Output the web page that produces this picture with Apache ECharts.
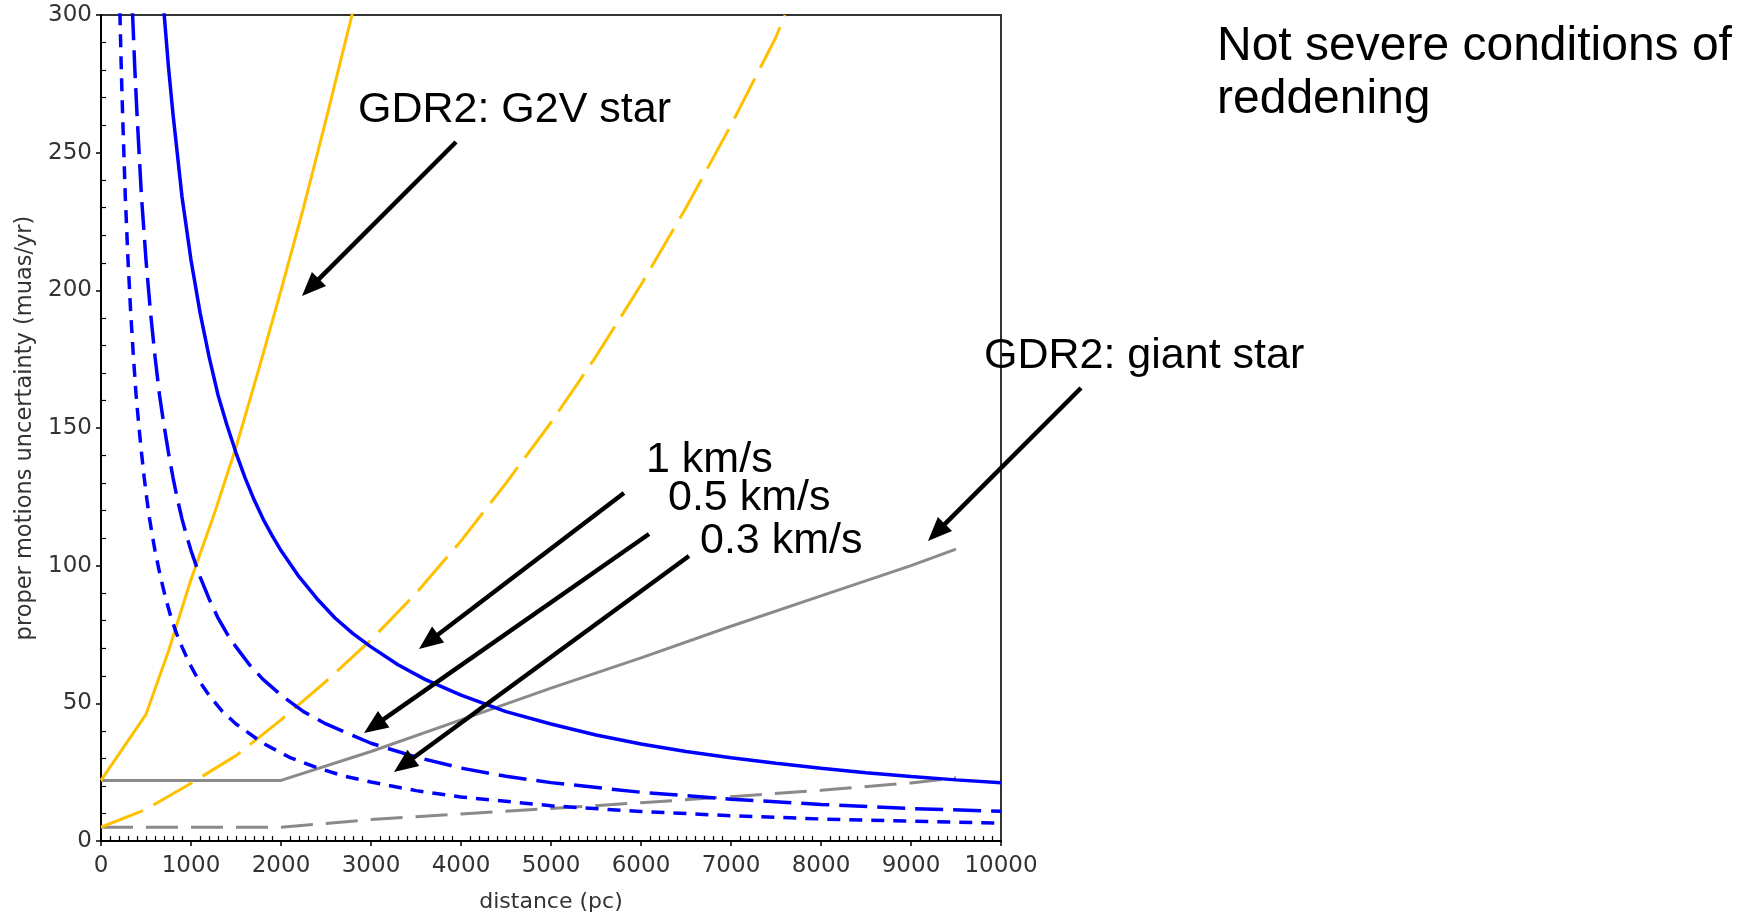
<!DOCTYPE html>
<html><head><meta charset="utf-8">
<script src="https://cdn.jsdelivr.net/npm/echarts@6/dist/echarts.min.js"></script>
<style>html,body{margin:0;padding:0;background:#fff}#c{width:1754px;height:915px}</style>
</head><body><div id="c"></div>
<script>
// ---- data (distance in pc, proper-motion uncertainty in muas/yr) ----
const xTicks = [0,1000,2000,3000,4000,5000,6000,7000,8000,9000,10000];
const yTicks = [0,50,100,150,200,250,300];

const v1Dist = [700,750,800,900,1000,1100,1200,1300,1400,1500,1600,1700,1800,1900,2000,2200,2400,2600,2800,3000,3300,3600,4000,4500,5000,5500,6000,6500,7000,7500,8000,8500,9000,9500,10000];
const v1Vals = [301,281,264,234,211,192,176,162,151,141,132,124,117,111,105.5,96,88,81,75.3,70.5,64,58.7,53,47,42.5,38.5,35.2,32.5,30.2,28.2,26.4,24.8,23.4,22.2,21.2];

const v05Dist = [350,375,400,450,500,550,600,650,700,750,800,850,900,950,1000,1100,1200,1300,1400,1500,1650,1800,2000,2250,2500,3000,3500,4000,4500,5000,6000,7000,8000,9000,10000];
const v05Vals = [301,281,264,234,211,192,176,162,151,141,132,124,117,111,105.5,96,88,81,75.3,70.5,64,58.7,53,47,42.5,35.5,30.5,26.5,23.5,21.2,17.7,15.2,13.3,11.8,10.8];

const v03Dist = [210,225,240,270,300,330,360,390,420,450,480,510,540,570,600,660,720,780,840,900,990,1080,1200,1350,1500,1800,2100,2400,2700,3000,3500,4000,5000,6000,7000,8000,9000,10000];
const v03Vals = [301,281,264,234,211,192,176,162,151,141,132,124,117,111,105.5,96,88,81,75.3,70.5,64,58.7,53,47,42.5,35.5,30.3,26.6,23.6,21.4,18.3,16,12.8,10.7,9.2,8,7.2,6.5];

const g2vDist = [0,250,500,750,1000,1250,1500,1750,2000,2250,2500,2750,2820];
const g2vVals = [22,34,46,69,95,118,143,171,200,230,262,295,304];

const g2vRedDist = [0,500,1000,1500,2000,2500,3000,3500,4000,4500,5000,5500,6000,6500,7000,7500,7600];
const g2vRedVals = [5,11.5,21,31,44,58,73,90,109,130,152,176,202,230,260,292,300];

const giantDist = [0,2000,3000,4000,5000,6000,7000,8000,9000,9500];
const giantVals = [22,22,32.5,44,55.5,66.5,78,89,100,106];

const giantRedDist = [0,2000,3000,4000,5000,6000,7000,8000,9000,9500];
const giantRedVals = [5,5,7.8,9.8,11.8,13.9,16.1,18.4,21.1,23];

function zip(a, b) { return a.map((x, i) => [x, b[i]]); }

// ---- annotations (pixel layout) ----
const labels = [
  { text: 'GDR2: G2V star', x: 358, y: 110, size: 43 },
  { text: 'GDR2: giant star', x: 984, y: 356, size: 43 },
  { text: '1 km/s', x: 646, y: 460, size: 43 },
  { text: '0.5 km/s', x: 668, y: 498, size: 43 },
  { text: '0.3 km/s', x: 700, y: 541, size: 43 },
  { text: 'Not severe conditions of', x: 1217, y: 47, size: 48 },
  { text: 'reddening', x: 1217, y: 100, size: 48 }
];
const arrows = [
  [456,142,302,296],
  [1081,388,928,541],
  [624,493,419,649],
  [649,534,364,733],
  [689,556,394,772]
];

const graphics = [];
labels.forEach(l => graphics.push({
  type: 'text', z: 100,
  style: { text: l.text, x: l.x, y: l.y, fontSize: l.size, fontFamily: 'Liberation Sans, Arial, sans-serif',
           fill: '#000', align: 'left', verticalAlign: 'middle' }
}));
arrows.forEach(a => {
  const [x1,y1,x2,y2] = a;
  const ang = Math.atan2(y2 - y1, x2 - x1);
  const L = 24, W = 10;
  const bx = x2 - L * Math.cos(ang), by = y2 - L * Math.sin(ang);
  const px = -Math.sin(ang), py = Math.cos(ang);
  graphics.push({ type: 'line', z: 100, shape: { x1, y1, x2: bx + 2*Math.cos(ang), y2: by + 2*Math.sin(ang) },
                  style: { stroke: '#000', lineWidth: 4.5 } });
  graphics.push({ type: 'polygon', z: 100, shape: { points: [[x2, y2], [bx + W*px, by + W*py], [bx - W*px, by - W*py]] },
                  style: { fill: '#000' } });
});

const font = 'DejaVu Sans, sans-serif';
const chart = echarts.init(document.getElementById('c'), null, { renderer: 'canvas' });

function lineSeries(name, d, v, color, width, type, z) {
  return { name, type: 'line', data: zip(d, v), showSymbol: false, symbol: 'none', clip: true, z: z || 2,
           lineStyle: { color, width, type: type || 'solid' }, animation: false };
}

chart.setOption({
  animation: false,
  backgroundColor: '#fff',
  grid: { left: 101, right: 753, top: 15, bottom: 74, show: true, borderColor: '#333', borderWidth: 2,
          backgroundColor: 'transparent', containLabel: false, outerBoundsMode: 'none' },
  xAxis: [{
    type: 'value', min: xTicks[0], max: xTicks[xTicks.length-1], interval: 1000,
    name: 'distance (pc)', nameLocation: 'middle', nameGap: 50,
    nameTextStyle: { fontSize: 22, fontFamily: font, color: '#333' },
    axisLine: { show: true, lineStyle: { color: '#000', width: 2 } },
    axisTick: { show: true, length: 5, lineStyle: { color: '#000', width: 1.5 } },
    axisLabel: { fontSize: 23, fontFamily: font, color: '#333', margin: 14, formatter: v => String(v) },
    splitLine: { show: false }
  }, {
    type: 'value', min: xTicks[0], max: xTicks[xTicks.length-1], interval: 1000, position: 'bottom',
    axisLine: { show: false }, axisTick: { show: false, inside: true }, axisLabel: { show: false },
    minorTick: { show: true, splitNumber: 10, length: 5, lineStyle: { color: '#000', width: 1.2 } },
    splitLine: { show: false }
  }],
  yAxis: [{
    type: 'value', min: yTicks[0], max: yTicks[yTicks.length-1], interval: 50,
    name: 'proper motions uncertainty (muas/yr)', nameLocation: 'middle', nameGap: 64,
    nameTextStyle: { fontSize: 22.5, fontFamily: font, color: '#333' },
    axisLine: { show: true, lineStyle: { color: '#000', width: 2 } },
    axisTick: { show: true, length: 5, lineStyle: { color: '#000', width: 1.5 } },
    axisLabel: { fontSize: 23, fontFamily: font, color: '#333', margin: 9, formatter: v => String(v) },
    splitLine: { show: false }
  }, {
    type: 'value', min: yTicks[0], max: yTicks[yTicks.length-1], interval: 50, position: 'left',
    axisLine: { show: false }, axisTick: { show: false, inside: true }, axisLabel: { show: false },
    minorTick: { show: true, splitNumber: 5, length: 5, lineStyle: { color: '#000', width: 1.2 } },
    splitLine: { show: false }
  }],
  series: [
    lineSeries('GDR2 giant (reddened)', giantRedDist, giantRedVals, '#8a8a8a', 3, [32, 13], 2),
    lineSeries('GDR2 giant', giantDist, giantVals, '#8a8a8a', 3, 'solid', 2),
    lineSeries('GDR2 G2V (reddened)', g2vRedDist, g2vRedVals, '#ffc000', 3, [45, 12], 3),
    lineSeries('GDR2 G2V', g2vDist, g2vVals, '#ffc000', 3, 'solid', 3),
    lineSeries('0.3 km/s', v03Dist, v03Vals, '#0000ff', 3.5, [13, 9], 4),
    lineSeries('0.5 km/s', v05Dist, v05Vals, '#0000ff', 3.5, [28, 10], 4),
    lineSeries('1 km/s', v1Dist, v1Vals, '#0000ff', 3.5, 'solid', 4)
  ],
  graphic: graphics
});
</script>
</body></html>
